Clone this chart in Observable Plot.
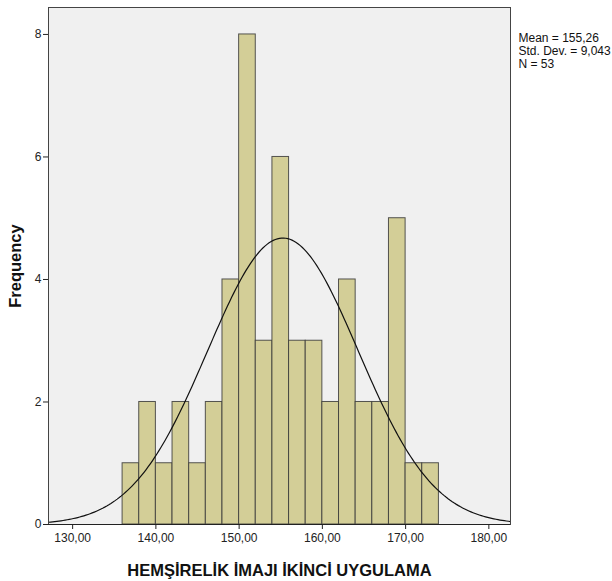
<!DOCTYPE html>
<html>
<head>
<meta charset="utf-8">
<script src="https://cdn.jsdelivr.net/npm/d3@7"></script>
<script src="https://cdn.jsdelivr.net/npm/@observablehq/plot@0.6"></script>
<style>
  html, body { margin: 0; padding: 0; background: #fff; }
  #chart svg { display: block; }
</style>
</head>
<body>
<div id="chart"></div>
<script>
// Histogram bins (lower edges), bin width 2
const binStarts = [136,138,140,142,144,146,148,150,152,154,156,158,160,162,164,166,168,170,172];
const counts    = [1,  2,  1,  2,  1,  2,  4,  8,  3,  6,  3,  3,  2,  4,  2,  2,  5,  1,  1];
const binWidth = 2;
const xTicks = [130,140,150,160,170,180];
const yTicks = [0,2,4,6,8];
const mean = 155.26, sd = 9.043, n = 53;
const legendLines = ["Mean = 155,26", "Std. Dev. = 9,043", "N = 53"];
const xTitle = "HEMŞİRELİK İMAJI İKİNCİ UYGULAMA";
const yTitle = "Frequency";

const bins = binStarts.map((b, i) => ({x1: b, x2: b + binWidth, y: counts[i]}));

const xDomain = [127.1, 182.6];
const curve = d3.range(xDomain[0], xDomain[1] + 0.01, 0.25).map(x => ({
  x,
  y: n * binWidth / (sd * Math.sqrt(2 * Math.PI)) * Math.exp(-0.5 * ((x - mean) / sd) ** 2)
}));

const fmt = d => d.toFixed(2).replace(".", ",");

const chart = Plot.plot({
  width: 612,
  height: 581,
  marginLeft: 48,
  marginRight: 102,
  marginTop: 7,
  marginBottom: 57,
  style: {fontFamily: "Liberation Sans, Arial, sans-serif", fontSize: "12px", color: "#222", background: "#fff"},
  x: {domain: xDomain},
  y: {domain: [0, 8.44]},
  marks: [
    Plot.frame({fill: "#f0f0f0", stroke: "none"}),
    Plot.rectY(bins, {x1: "x1", x2: "x2", y: "y", fill: "#d3ce97", stroke: "#3a3a3a", strokeWidth: 1, strokeOpacity: 0.85}),
    Plot.line(curve, {x: "x", y: "y", stroke: "#111", strokeWidth: 1.2}),
    Plot.frame({stroke: "#444", strokeWidth: 1}),
    Plot.ruleY([0], {stroke: "#222", strokeWidth: 1.2}),
    Plot.axisX({ticks: xTicks, tickFormat: fmt, tickSize: 5, tickPadding: 4, label: null, fontSize: 12, stroke: "#222"}),
    Plot.axisY({ticks: yTicks, tickFormat: d => String(d), tickSize: 5, tickPadding: 2, label: null, fontSize: 12, stroke: "#222"}),
    Plot.text([xTitle], {frameAnchor: "bottom", textAnchor: "middle", lineAnchor: "middle", dy: 46, fontSize: 16.5, fontWeight: "bold", fill: "#111"}),
    Plot.text([yTitle], {frameAnchor: "left", textAnchor: "middle", lineAnchor: "middle", dx: -33, dy: 0, rotate: -90, fontSize: 16.5, fontWeight: "bold", fill: "#111"}),
    Plot.text([legendLines.join("\n")], {frameAnchor: "top-right", textAnchor: "start", lineAnchor: "top", dx: 8, dy: 25, fontSize: 12, lineHeight: 1.08, fill: "#111"})
  ]
});
document.getElementById("chart").appendChild(chart);
</script>
</body>
</html>
